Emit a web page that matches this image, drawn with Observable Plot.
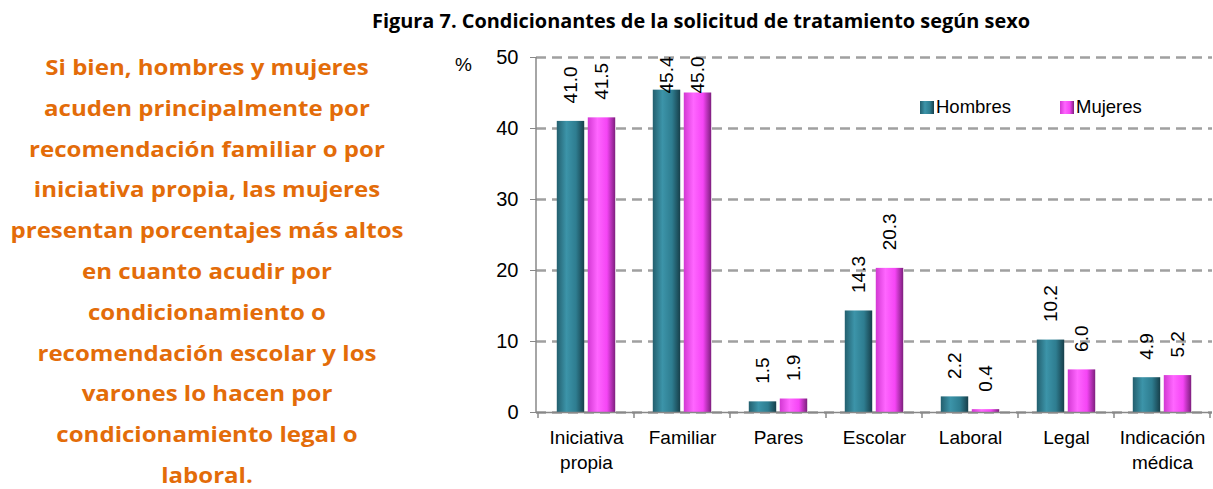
<!DOCTYPE html>
<html><head><meta charset="utf-8">
<script src="https://cdn.jsdelivr.net/npm/d3@7"></script>
<script src="https://cdn.jsdelivr.net/npm/@observablehq/plot@0.6"></script>
<style>
html,body{margin:0;padding:0;background:#fff;}
#page{position:relative;width:1213px;height:489px;overflow:hidden;font-family:"Liberation Sans",Arial,sans-serif;}
#title{position:absolute;left:372px;top:10px;white-space:nowrap;font-family:"Open Sans",sans-serif;font-weight:700;font-size:20px;line-height:22px;color:#000;transform-origin:0 0;}
#side{position:absolute;left:0;top:56px;width:414px;text-align:center;font-family:"Open Sans",sans-serif;font-weight:700;font-size:20.5px;line-height:22px;color:#E36C09;transform-origin:207px 0;}
#side div{height:22px;margin-bottom:18.8px;}
#side span{white-space:nowrap;}
#chart{position:absolute;left:430px;top:40px;}
#pct{position:absolute;left:455px;top:54px;font-size:19px;}
#legend{position:absolute;top:96px;left:920px;font-size:18.5px;}
.lg{position:absolute;top:0;white-space:nowrap;display:flex;align-items:center;}
.sw{display:inline-block;width:14px;height:13px;margin-right:2px;}
</style></head>
<body><div id="page">
<div id="title"></div>
<div id="side"></div>
<div id="pct">%</div>
<div id="chart"></div>
<div id="legend"></div>
</div>
<script>
const titleText = "Figura 7. Condicionantes de la solicitud de tratamiento según sexo";
const sideLines = [
  "Si bien, hombres y mujeres",
  "acuden principalmente por",
  "recomendación familiar o por",
  "iniciativa propia, las mujeres",
  "presentan porcentajes más altos",
  "en cuanto acudir por",
  "condicionamiento o",
  "recomendación escolar y los",
  "varones lo hacen por",
  "condicionamiento legal o",
  "laboral."
];
const categories = ["Iniciativa\npropia","Familiar","Pares","Escolar","Laboral","Legal","Indicación\nmédica"];
const series = ["Hombres","Mujeres"];
const hombres = [41.0,45.4,1.5,14.3,2.2,10.2,4.9];
const mujeres = [41.5,45.0,1.9,20.3,0.4,6.0,5.2];
const yTicks = [0,10,20,30,40,50];
const gradStops = {
  Hombres: ["#235f6e","#3c94a9","#2e7d90","#173f4a"],
  Mujeres: ["#d238d2","#ff66ff","#f545f5","#7d1f7d"]
};

// title & side text
const tEl = document.getElementById("title");
const tSpan = document.createElement("span");
tSpan.textContent = titleText;
tEl.appendChild(tSpan);
const tw = tSpan.getBoundingClientRect().width;
tEl.style.transform = `scaleX(${658 / tw})`;

const side = document.getElementById("side");
let maxW = 0;
sideLines.forEach(l => {
  const d = document.createElement("div");
  const s = document.createElement("span");
  s.textContent = l;
  d.appendChild(s);
  side.appendChild(d);
  maxW = Math.max(maxW, s.getBoundingClientRect().width);
});
side.style.transform = `scaleX(${393 / maxW})`;

// data table
const data = categories.flatMap((c, i) => [
  {cat: c, serie: series[0], v: hombres[i]},
  {cat: c, serie: series[1], v: mujeres[i]}
]);

const W = 783, H = 449, ML = 106, MR = 1, MT = 17, MB = 77;
const bw = 28, off = 15.5;
const inset = ((W - ML - MR) / categories.length - bw) / 2;
const fills = {Hombres: "url(#gH)", Mujeres: "url(#gM)"};

const marks = [
  Plot.gridY(yTicks, {stroke: "#a0a0a0", strokeOpacity: 1, strokeWidth: 2.5, strokeDasharray: "10,6"}),
  Plot.axisY(yTicks, {tickSize: 6, tickPadding: 12, fontSize: 20, stroke: "#888", label: null, tickFormat: d => d}),
  Plot.axisX({tickSize: 0, tickPadding: 14, fontSize: 19, lineHeight: 1.3, label: null})
];
series.forEach((s, k) => {
  const sub = data.filter(d => d.serie === s);
  const dx = k === 0 ? -off : off;
  marks.push(Plot.barY(sub, {x: "cat", y: "v", fill: fills[s], insetLeft: inset, insetRight: inset, dx}));
  marks.push(Plot.text(sub, {x: "cat", y: d => Math.min(d.v, 42.4), text: d => d.v.toFixed(1), rotate: -90, textAnchor: "start", dy: -18, dx, fontSize: 19, fill: "#000"}));
});
marks.push(Plot.ruleY([0], {stroke: "#888", strokeWidth: 1.5}));

const chart = Plot.plot({
  width: W, height: H, marginLeft: ML, marginRight: MR, marginTop: MT, marginBottom: MB,
  style: {fontFamily: "'Liberation Sans', Arial, sans-serif", color: "#000", background: "transparent", overflow: "visible"},
  x: {domain: categories, padding: 0},
  y: {domain: [0, 50]},
  marks
});

const svg = d3.select(chart);
const defs = svg.insert("defs", ":first-child");
[["gH", gradStops.Hombres], ["gM", gradStops.Mujeres]].forEach(([id, st]) => {
  const g = defs.append("linearGradient").attr("id", id).attr("x1", 0).attr("x2", 1).attr("y1", 0).attr("y2", 0);
  [0, 0.35, 0.7, 1].forEach((o, i) => g.append("stop").attr("offset", o).attr("stop-color", st[i]));
});
const xs = chart.scale("x"), ys = chart.scale("y");
const y0 = ys.apply(0), y50 = ys.apply(50);
const bounds = categories.map(c => xs.apply(c)).concat([xs.apply(categories[categories.length - 1]) + xs.bandwidth]);
const extra = svg.append("g").attr("stroke", "#888").attr("stroke-width", 1.5);
extra.append("line").attr("x1", ML).attr("x2", ML).attr("y1", y0).attr("y2", y50);
bounds.forEach(b => extra.append("line").attr("x1", b).attr("x2", b).attr("y1", y0).attr("y2", y0 + 6));
document.getElementById("chart").appendChild(chart);

// legend
const lg = document.getElementById("legend");
const lgX = {Hombres: 0, Mujeres: 140};
series.forEach(s => {
  const st = gradStops[s];
  const item = document.createElement("div");
  item.className = "lg";
  item.style.left = lgX[s] + "px";
  const sw = document.createElement("span");
  sw.className = "sw";
  sw.style.background = `linear-gradient(to right, ${st[0]}, ${st[1]} 35%, ${st[2]} 70%, ${st[3]})`;
  item.appendChild(sw);
  item.appendChild(document.createTextNode(s));
  lg.appendChild(item);
});
</script>
</body></html>
